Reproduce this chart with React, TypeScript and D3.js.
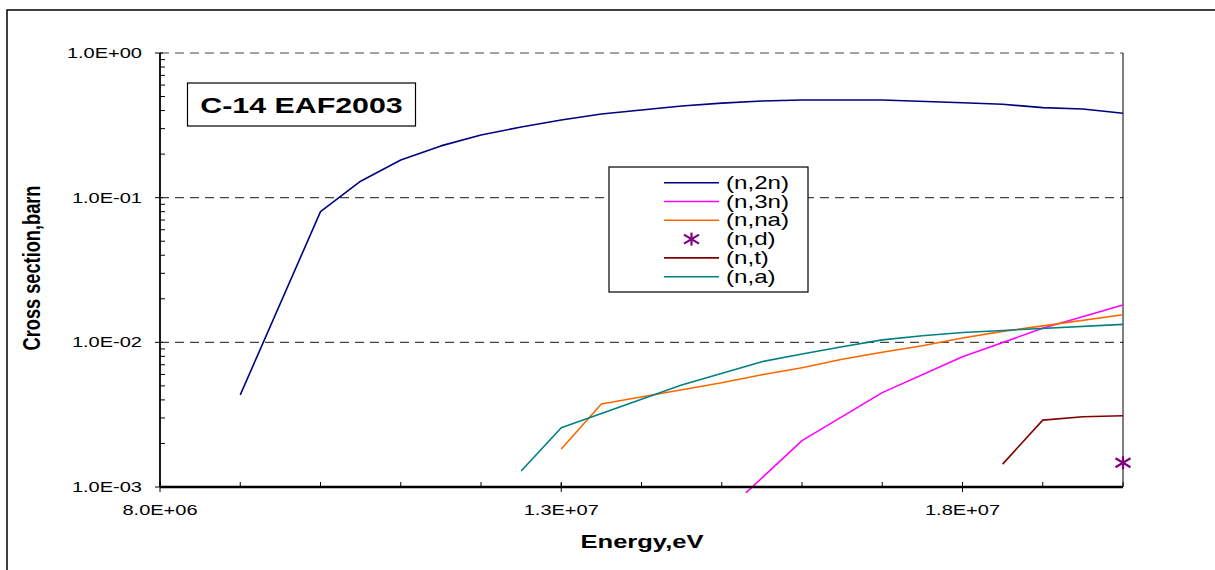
import React from "react";
import * as d3 from "d3";

// Energy grid (eV) and cross sections (barn) for each reaction channel
const n2nEnergy = [9.0e6, 1.0e7, 1.05e7, 1.1e7, 1.15e7, 1.2e7, 1.25e7, 1.3e7, 1.35e7, 1.4e7, 1.45e7, 1.5e7, 1.55e7, 1.6e7, 1.7e7, 1.8e7, 1.85e7, 1.9e7, 1.95e7, 2.0e7];
const n2nValue = [4.33e-3, 8.0e-2, 0.13, 0.182, 0.228, 0.271, 0.308, 0.344, 0.379, 0.404, 0.43, 0.45, 0.466, 0.473, 0.473, 0.453, 0.442, 0.419, 0.41, 0.383];

const n3nEnergy = [1.53e7, 1.6e7, 1.7e7, 1.8e7, 1.9e7, 2.0e7];
const n3nValue = [9.1e-4, 2.09e-3, 4.49e-3, 7.96e-3, 1.25e-2, 1.81e-2];

const nnaEnergy = [1.3e7, 1.35e7, 1.5e7, 1.55e7, 1.6e7, 1.65e7, 1.7e7, 1.75e7, 1.8e7, 1.85e7, 1.9e7, 2.0e7];
const nnaValue = [1.83e-3, 3.75e-3, 5.26e-3, 5.97e-3, 6.68e-3, 7.63e-3, 8.54e-3, 9.48e-3, 1.07e-2, 1.19e-2, 1.3e-2, 1.55e-2];

const ndEnergy = [2.0e7];
const ndValue = [1.47e-3];

const ntEnergy = [1.85e7, 1.9e7, 1.95e7, 2.0e7];
const ntValue = [1.44e-3, 2.9e-3, 3.06e-3, 3.11e-3];

const naEnergy = [1.25e7, 1.3e7, 1.45e7, 1.55e7, 1.6e7, 1.65e7, 1.7e7, 1.75e7, 1.8e7, 2.0e7];
const naValue = [1.29e-3, 2.57e-3, 5.07e-3, 7.35e-3, 8.3e-3, 9.33e-3, 1.04e-2, 1.11e-2, 1.17e-2, 1.33e-2];

const xMajorTicks = [8.0e6, 1.3e7, 1.8e7];
const yMajorTicks = [1e-3, 1e-2, 1e-1, 1e0];

const chartTitle = "C-14 EAF2003";
const xTitle = "Energy,eV";
const yTitle = "Cross section,barn";

type Series = { name: string; color: string; x: number[]; y: number[]; kind: "line" | "star" };

const series: Series[] = [
  { name: "(n,2n)", color: "#000080", x: n2nEnergy, y: n2nValue, kind: "line" },
  { name: "(n,3n)", color: "#FF00FF", x: n3nEnergy, y: n3nValue, kind: "line" },
  { name: "(n,na)", color: "#FF6600", x: nnaEnergy, y: nnaValue, kind: "line" },
  { name: "(n,d)", color: "#800080", x: ndEnergy, y: ndValue, kind: "star" },
  { name: "(n,t)", color: "#800000", x: ntEnergy, y: ntValue, kind: "line" },
  { name: "(n,a)", color: "#008080", x: naEnergy, y: naValue, kind: "line" },
];

const W = 1215;
const H = 570;
const plot = { left: 160, right: 1123, top: 53, bottom: 487 };
const SX = 1.38; // horizontal stretch of all lettering
const FONT = "Arial, 'Liberation Sans', sans-serif";

const xScale = d3.scaleLinear().domain([8e6, 2e7]).range([plot.left, plot.right]);
const yScale = d3.scaleLog().domain([1e-3, 1]).range([plot.bottom, plot.top]);

const sci = (v: number) => {
  const s = v.toExponential(1).toUpperCase(); // e.g. 1.3E+7
  const m = s.match(/^(-?[\d.]+)E([+-])(\d+)$/);
  if (!m) return s;
  return `${m[1]}E${m[2]}${m[3].padStart(2, "0")}`;
};

function SText(props: {
  x: number;
  y: number;
  size: number;
  anchor?: "start" | "middle" | "end";
  bold?: boolean;
  children: React.ReactNode;
}) {
  const { x, y, size, anchor = "start", bold, children } = props;
  return (
    <g transform={`translate(${x},${y}) scale(${SX},1)`}>
      <text
        x={0}
        y={0}
        fontSize={size}
        fontFamily={FONT}
        fontWeight={bold ? "bold" : "normal"}
        textAnchor={anchor}
        fill="#000"
      >
        {children}
      </text>
    </g>
  );
}

function Star({ cx, cy, color }: { cx: number; cy: number; color: string }) {
  return (
    <g stroke={color} strokeWidth={2.2}>
      <line x1={cx} y1={cy - 6.5} x2={cx} y2={cy + 6.5} />
      <line x1={cx - 7.5} y1={cy - 4.5} x2={cx + 7.5} y2={cy + 4.5} />
      <line x1={cx - 7.5} y1={cy + 4.5} x2={cx + 7.5} y2={cy - 4.5} />
    </g>
  );
}

export default function App() {
  const lineGen = d3
    .line<[number, number]>()
    .x((d) => xScale(d[0]))
    .y((d) => yScale(d[1]));

  const xMinor = d3.range(8e6, 2.0e7 + 1, 1e6);
  const yMinor: number[] = [];
  for (let e = -3; e < 0; e++) {
    for (let k = 2; k <= 9; k++) yMinor.push(k * Math.pow(10, e));
  }

  const legend = { x: 609, y: 167, w: 199, h: 125, row0: 182.7, step: 18.8 };

  return (
    <svg
      width={W}
      height={H}
      style={{ position: "absolute", left: 0, top: 0, background: "#fff" }}
    >
      <rect x={0} y={0} width={W} height={H} fill="#fff" />
      {/* outer chart frame */}
      <rect x={7} y={10} width={W + 20} height={H + 20} fill="none" stroke="#000" strokeWidth={1.5} />

      {/* dashed gridlines at decades */}
      {yMajorTicks
        .filter((v) => v > 1e-3)
        .map((v) => (
          <line
            key={`g${v}`}
            x1={plot.left}
            x2={plot.right}
            y1={yScale(v)}
            y2={yScale(v)}
            stroke="#444"
            strokeWidth={1.2}
            strokeDasharray="9,6"
          />
        ))}

      {/* right border of plot area */}
      <line x1={plot.right} x2={plot.right} y1={plot.top} y2={plot.bottom} stroke="#000" strokeWidth={1} />

      {/* series */}
      {series.map((s) =>
        s.kind === "line" ? (
          <path
            key={s.name}
            d={lineGen(s.x.map((x, i) => [x, s.y[i]] as [number, number])) || ""}
            fill="none"
            stroke={s.color}
            strokeWidth={1.6}
            strokeLinejoin="round"
          />
        ) : (
          <g key={s.name}>
            {s.x.map((x, i) => (
              <Star key={i} cx={xScale(x)} cy={yScale(s.y[i])} color={s.color} />
            ))}
          </g>
        )
      )}

      {/* y axis */}
      <line x1={plot.left} x2={plot.left} y1={plot.top} y2={plot.bottom} stroke="#000" strokeWidth={1.8} />
      {yMinor.map((v) => (
        <line key={`ym${v}`} x1={plot.left} x2={plot.left + 5} y1={yScale(v)} y2={yScale(v)} stroke="#000" strokeWidth={1} />
      ))}
      {yMajorTicks.map((v) => (
        <g key={`y${v}`}>
          <line x1={plot.left - 5} x2={plot.left + 3} y1={yScale(v)} y2={yScale(v)} stroke="#000" strokeWidth={1} />
          <SText x={142} y={yScale(v) + 5} size={14.5} anchor="end">
            {sci(v)}
          </SText>
        </g>
      ))}

      {/* x axis */}
      <line x1={plot.left} x2={plot.right} y1={plot.bottom} y2={plot.bottom} stroke="#000" strokeWidth={2.7} />
      {xMinor.map((v) => (
        <line key={`xm${v}`} x1={xScale(v)} x2={xScale(v)} y1={plot.bottom - 5} y2={plot.bottom} stroke="#000" strokeWidth={1} />
      ))}
      {xMajorTicks.map((v) => (
        <g key={`x${v}`}>
          <line x1={xScale(v)} x2={xScale(v)} y1={plot.bottom - 4} y2={plot.bottom + 5} stroke="#000" strokeWidth={1} />
          <SText x={xScale(v)} y={515} size={14.5} anchor="middle">
            {sci(v)}
          </SText>
        </g>
      ))}

      {/* axis titles */}
      <SText x={642} y={548} size={18.5} anchor="middle" bold>
        {xTitle}
      </SText>
      <g transform={`translate(40,268) scale(${SX},1) rotate(-90)`}>
        <text
          x={0}
          y={0}
          fontSize={17}
          fontWeight="bold"
          fontFamily={FONT}
          textAnchor="middle"
          textLength={165}
          lengthAdjust="spacingAndGlyphs"
        >
          {yTitle}
        </text>
      </g>

      {/* chart title box */}
      <rect x={187.5} y={83} width={228} height={43} fill="#fff" stroke="#000" strokeWidth={1.2} />
      <SText x={301.5} y={112.5} size={22} anchor="middle" bold>
        {chartTitle}
      </SText>

      {/* legend */}
      <rect x={legend.x} y={legend.y} width={legend.w} height={legend.h} fill="#fff" stroke="#000" strokeWidth={1.2} />
      {series.map((s, i) => {
        const cy = legend.row0 + i * legend.step;
        return (
          <g key={`l${s.name}`}>
            {s.kind === "line" ? (
              <line x1={664} x2={719} y1={cy} y2={cy} stroke={s.color} strokeWidth={1.6} />
            ) : (
              <Star cx={691.5} cy={cy} color={s.color} />
            )}
            <SText x={726} y={cy + 6} size={17.5}>
              {s.name}
            </SText>
          </g>
        );
      })}
    </svg>
  );
}
